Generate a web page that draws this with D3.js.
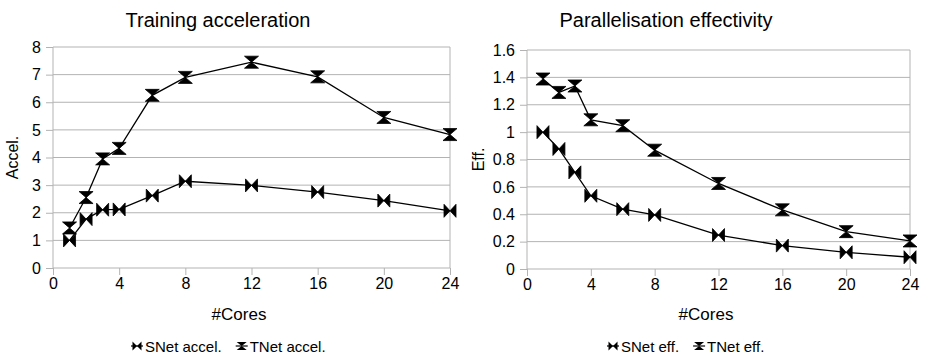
<!DOCTYPE html>
<html>
<head>
<meta charset="utf-8">
<script src="https://cdn.jsdelivr.net/npm/d3@7"></script>
<style>
  html, body { margin: 0; padding: 0; background: #fff; }
  svg { display: block; font-family: "Liberation Sans", Arial, sans-serif; }
</style>
</head>
<body>
<svg id="chart" width="925" height="357"></svg>
<script>
// Core counts used in the benchmark runs
const cores = [1, 2, 3, 4, 6, 8, 12, 16, 20, 24];

// Training speed-up relative to a single core
const snetAccel = [1.0, 1.77, 2.11, 2.12, 2.62, 3.14, 2.99, 2.75, 2.44, 2.07];
const tnetAccel = [1.45, 2.55, 3.95, 4.33, 6.25, 6.9, 7.45, 6.92, 5.45, 4.83];

// Parallel efficiency (speed-up divided by core count)
const snetEff = [1.0, 0.877, 0.706, 0.535, 0.437, 0.395, 0.248, 0.171, 0.122, 0.086];
const tnetEff = [1.388, 1.29, 1.337, 1.09, 1.047, 0.868, 0.625, 0.432, 0.273, 0.205];

const xTicks = [0, 4, 8, 12, 16, 20, 24];
const accelTicks = [0, 1, 2, 3, 4, 5, 6, 7, 8];
const effTicks = [0, 0.2, 0.4, 0.6, 0.8, 1, 1.2, 1.4, 1.6];

const svg = d3.select("#chart");
const gridColor = "#b3b3b3";

// Marker shapes: a horizontal bow-tie and a vertical hourglass
function bowtie(w, h) {
  return `M${-w},${-h}L0,0L${-w},${h}Z M${w},${-h}L0,0L${w},${h}Z`;
}
function hourglass(w, h) {
  return `M${-w},${-h}L${w},${-h}L0,0Z M${-w},${h}L${w},${h}L0,0Z`;
}

function panel(cfg) {
  const g = svg.append("g");
  const x = d3.scaleLinear().domain([0, 24]).range([cfg.left, cfg.right]);
  const y = d3.scaleLinear().domain([0, cfg.ymax]).range([cfg.bottom, cfg.top]);

  // horizontal grid lines
  g.append("g").selectAll("line").data(cfg.yTicks.slice(1)).join("line")
    .attr("x1", cfg.left).attr("x2", cfg.right)
    .attr("y1", d => y(d)).attr("y2", d => y(d))
    .attr("stroke", gridColor).attr("stroke-width", 1);

  // right frame edge
  g.append("line")
    .attr("x1", cfg.right).attr("x2", cfg.right)
    .attr("y1", cfg.top).attr("y2", cfg.bottom)
    .attr("stroke", gridColor);

  // y axis
  const yAxis = d3.axisLeft(y).tickValues(cfg.yTicks).tickSize(7).tickPadding(5)
    .tickFormat(d => String(d));
  const ya = g.append("g").attr("transform", `translate(${cfg.left},0)`).call(yAxis);
  ya.select(".domain").attr("stroke", gridColor).attr("d", `M0,${cfg.top}V${cfg.bottom}`);
  ya.selectAll(".tick line").attr("stroke", gridColor);
  ya.selectAll(".tick text").attr("fill", "#000").style("font-size", "16px")
    .style("font-family", "Liberation Sans, Arial, sans-serif");

  // x axis
  const xAxis = d3.axisBottom(x).tickValues(xTicks).tickSize(7).tickPadding(3)
    .tickFormat(d => String(d));
  const xa = g.append("g").attr("transform", `translate(0,${cfg.bottom})`).call(xAxis);
  xa.select(".domain").attr("stroke", gridColor).attr("d", `M${cfg.left},0H${cfg.right}`);
  xa.selectAll(".tick line").attr("stroke", gridColor);
  xa.selectAll(".tick text").attr("fill", "#000").style("font-size", "16px")
    .style("font-family", "Liberation Sans, Arial, sans-serif");

  // series lines and markers
  const line = d3.line().x(d => x(d[0])).y(d => y(d[1]));
  cfg.series.forEach(s => {
    const pts = cores.map((c, i) => [c, s.values[i]]);
    g.append("path").datum(pts).attr("d", line)
      .attr("fill", "none").attr("stroke", "#000").attr("stroke-width", 1.3);
  });
  cfg.series.forEach(s => {
    const pts = cores.map((c, i) => [c, s.values[i]]);
    g.append("g").selectAll("path").data(pts).join("path")
      .attr("transform", d => `translate(${x(d[0])},${y(d[1])})`)
      .attr("d", s.shape)
      .attr("fill", "#000").attr("stroke", "#000").attr("stroke-width", 0.8)
      .attr("stroke-linejoin", "miter");
  });

  // titles
  g.append("text").attr("x", cfg.titleX).attr("y", 27).attr("text-anchor", "middle")
    .style("font-size", "20px").text(cfg.title);
  g.append("text").attr("x", cfg.xLabelX).attr("y", 320).attr("text-anchor", "middle")
    .style("font-size", "17px").text("#Cores");
  g.append("text")
    .attr("transform", `translate(${cfg.yLabelX},${(cfg.top + cfg.bottom) / 2}) rotate(-90)`)
    .attr("text-anchor", "middle").style("font-size", "16px").text(cfg.yLabel);

  // legend
  let lx = cfg.legendX;
  const ly = 346;
  cfg.series.forEach(s => {
    const lg = g.append("g").attr("transform", `translate(${lx},${ly})`);
    lg.append("line").attr("x1", -6).attr("x2", 6).attr("y1", 0).attr("y2", 0)
      .attr("stroke", "#000").attr("stroke-width", 1.2);
    lg.append("path").attr("d", s.legendShape).attr("fill", "#000");
    const t = lg.append("text").attr("x", 8).attr("y", 5.5).style("font-size", "15px").text(s.name);
    lx += 8 + t.node().getComputedTextLength() + 20;
  });
}

panel({
  left: 53, right: 450, top: 47, bottom: 268, ymax: 8,
  yTicks: accelTicks,
  title: "Training acceleration", titleX: 218,
  xLabelX: 239, yLabel: "Accel.", yLabelX: 18,
  legendX: 137,
  series: [
    { name: "SNet accel.", values: snetAccel, shape: bowtie(6, 6.5), legendShape: bowtie(4.5, 4.5) },
    { name: "TNet accel.", values: tnetAccel, shape: hourglass(7, 6), legendShape: hourglass(5, 4) }
  ]
});

panel({
  left: 527, right: 910, top: 50, bottom: 269, ymax: 1.6,
  yTicks: effTicks,
  title: "Parallelisation effectivity", titleX: 666,
  xLabelX: 706, yLabel: "Eff.", yLabelX: 484,
  legendX: 613,
  series: [
    { name: "SNet eff.", values: snetEff, shape: bowtie(6, 6.5), legendShape: bowtie(4.5, 4.5) },
    { name: "TNet eff.", values: tnetEff, shape: hourglass(7, 6), legendShape: hourglass(5, 4) }
  ]
});
</script>
</body>
</html>
